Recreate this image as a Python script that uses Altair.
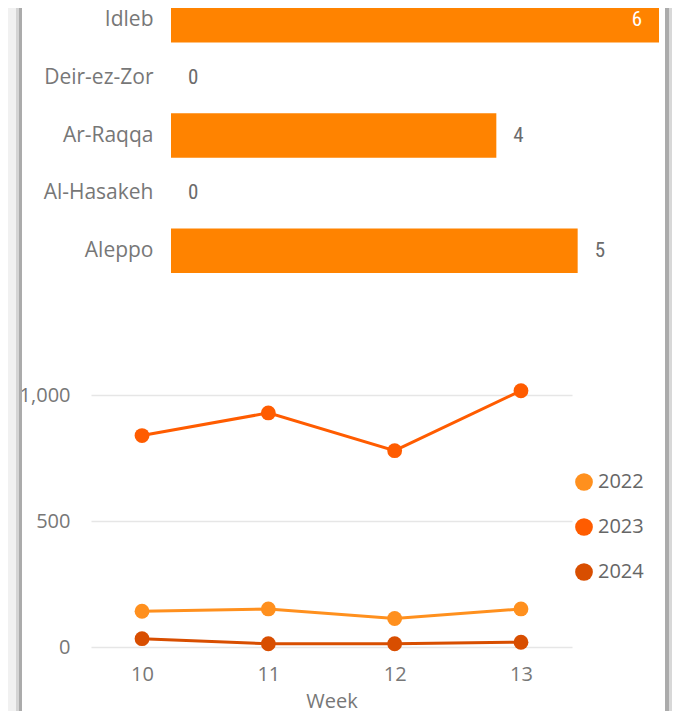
import altair as alt
import pandas as pd

# ---------------- data ----------------
regions = ["Idleb", "Deir-ez-Zor", "Ar-Raqqa", "Al-Hasakeh", "Aleppo"]
counts = [6, 0, 4, 0, 5]

weeks = [10, 11, 12, 13]
cases_2022 = [142, 151, 113, 151]
cases_2023 = [839, 929, 779, 1017]
cases_2024 = [33, 13, 13, 19]
years = ["2022", "2023", "2024"]
year_colors = ["#FF901E", "#FF5C00", "#D84E00"]
y_ticks = [0, 500, 1000]

FONT = "Open Sans"
NUM_FONT = "Liberation Sans Narrow, Roboto Condensed, Roboto"
AXIS_GREY = "#777777"
BAR_COLOR = "#FF8300"

bar_df = pd.DataFrame({"region": regions, "count": counts})
bar_df["inside"] = bar_df["count"] == max(counts)

line_df = pd.DataFrame({
    "week": weeks * 3,
    "year": [years[0]] * 4 + [years[1]] * 4 + [years[2]] * 4,
    "cases": cases_2022 + cases_2023 + cases_2024,
})

ORIGIN_X = 91  # page x of both plot origins


def frame(top, bottom):
    """Decorative card edges (light gradient + grey bar) on both sides."""
    left, right = 8 - ORIGIN_X, 672 - ORIGIN_X
    one = pd.DataFrame({"k": [0]})
    pieces = [
        (left, left + 8, "#f1f1f1"),
        (left + 8, left + 11, "#d4d4d4"),
        (left + 11, left + 14, "#ababab"),
        (right - 7, right - 3, "#ababab"),
        (right - 3, right, "#d8d8d8"),
    ]
    return [
        alt.Chart(one).mark_rect(color=c).encode(
            x=alt.value(a), x2=alt.value(b), y=alt.value(top), y2=alt.value(bottom)
        )
        for a, b, c in pieces
    ]


# ---------------- bar chart ----------------
BAR_START = 171 - ORIGIN_X
y_bar = alt.Y(
    "region:N", sort=regions, title=None,
    scale=alt.Scale(range=[-10, 265], paddingInner=0.228, paddingOuter=0),
    axis=alt.Axis(domain=False, ticks=False, tickSize=0, labelPadding=18, offset=-BAR_START,
                  labelFontSize=21, labelColor=AXIS_GREY, labelFont=FONT, grid=False),
)
x_bar = alt.X("count:Q", scale=alt.Scale(domain=[0, max(counts)], nice=False,
                                         range=[BAR_START, BAR_START + 488]), axis=None)

bars = alt.Chart(bar_df).mark_bar(color=BAR_COLOR, clip=True).encode(x=x_bar, y=y_bar)
labels_out = alt.Chart(bar_df).transform_filter("!datum.inside").mark_text(
    align="left", baseline="middle", dx=17, font=NUM_FONT, fontSize=21, color="#6b6b6b"
).encode(x=x_bar, y=y_bar, text="count:Q")
labels_in = alt.Chart(bar_df).transform_filter("datum.inside").mark_text(
    align="right", baseline="middle", dx=-17, font=NUM_FONT, fontSize=21, color="white"
).encode(x=x_bar, y=y_bar, text="count:Q")

bar_chart = alt.layer(*frame(0, 357), bars, labels_out, labels_in).properties(
    width=BAR_START + 490, height=265
)

# ---------------- line chart ----------------
x_line = alt.X(
    "week:O", scale=alt.Scale(type="point", padding=0.404),
    axis=alt.Axis(labelAngle=0, domain=False, ticks=False, tickSize=0, labelPadding=17,
                  labelFontSize=20, labelColor=AXIS_GREY, labelFont=FONT,
                  title="Week", titleFontSize=20, titleColor=AXIS_GREY, titleFont=FONT,
                  titleFontWeight="normal", titleY=44, titleBaseline="top", grid=False),
)
y_line = alt.Y(
    "cases:Q", scale=alt.Scale(domain=[0, 1000], nice=False),
    axis=alt.Axis(values=y_ticks, format=",.0f", domain=False, ticks=False, tickSize=0,
                  labelPadding=21, labelFontSize=20, labelColor=AXIS_GREY, labelFont=FONT,
                  grid=True, gridColor="#e6e6e6", gridWidth=1.5, title=None),
)

# stroke scale uses the same year->colour mapping (listed in reverse order so that its
# disabled legend is not merged into the colour legend)
lines = alt.Chart(line_df).mark_line(strokeWidth=3).encode(
    x=x_line, y=y_line,
    stroke=alt.Stroke("year:N", scale=alt.Scale(domain=years[::-1], range=year_colors[::-1]),
                      legend=None),
)
points = alt.Chart(line_df).mark_circle(size=220, opacity=1).encode(
    x=x_line, y=y_line,
    color=alt.Color("year:N", scale=alt.Scale(domain=years, range=year_colors),
                    legend=alt.Legend(
                        orient="none", legendX=483, legendY=77, title=None,
                        symbolType="circle", symbolSize=314, symbolStrokeWidth=0,
                        labelFontSize=20, labelFont=FONT, labelColor="#666666",
                        rowPadding=25, labelOffset=4, padding=0)),
)

line_chart = alt.layer(*frame(-30, 316), lines, points).properties(width=481, height=252)

chart = (
    alt.vconcat(bar_chart, line_chart, spacing=0)
    .resolve_scale(color="independent", stroke="independent")
    .resolve_legend(color="independent", stroke="independent")
    .properties(padding=0, background="white")
    .configure(font=FONT)
    .configure_view(stroke=None)
)

chart.save("out.html", embed_options={"renderer": "svg", "actions": False})
